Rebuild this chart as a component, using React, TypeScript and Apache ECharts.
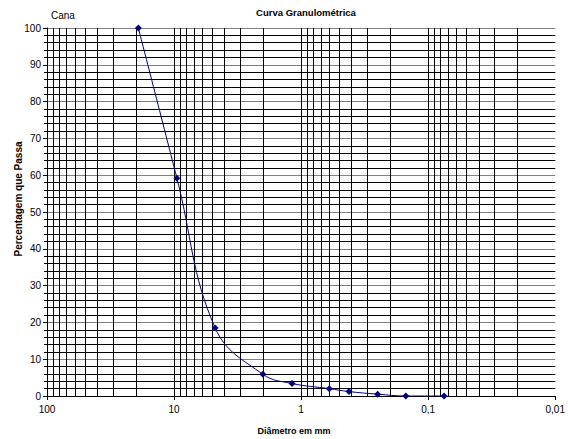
import React, { useEffect, useRef } from "react";
import * as echarts from "echarts";

// Sieve diameters (mm) and percentage passing
const diameters = [19.1, 9.5, 4.75, 2.0, 1.18, 0.6, 0.42, 0.25, 0.15, 0.075];
const passing = [100, 59.2, 18.5, 5.9, 3.4, 2.0, 1.2, 0.5, 0.0, 0.0];

const decades = [0.01, 0.1, 1, 10];
const multipliers = [1, 2, 3, 4, 5, 6, 7, 8, 9];

const FONT = "'Liberation Sans', Arial, sans-serif";

export default function App() {
  const ref = useRef<HTMLDivElement>(null);
  useEffect(() => {
    if (!ref.current) return;
    const chart = echarts.init(ref.current, null, { renderer: "svg" });
    const gridXs: number[] = [];
    decades.forEach((d) =>
      multipliers.forEach((m) => {
        const v = Number((d * m).toPrecision(3));
        if (v > 0.01) gridXs.push(v);
      })
    );
    const fmt = (v: number) => String(Number(v.toPrecision(3))).replace(".", ",");
    chart.setOption({
      animation: false,
      backgroundColor: "#fff",
      textStyle: { fontFamily: FONT },
      title: {
        text: "Curva Granulométrica",
        left: 301,
        textAlign: "center",
        top: 2,
        textStyle: { fontSize: 9.5, fontWeight: "bold", color: "#000", fontFamily: FONT },
      },
      grid: { left: 47, right: 10, top: 28, bottom: 43 },
      xAxis: {
        type: "log",
        logBase: 10,
        min: 0.01,
        max: 100,
        inverse: true,
        axisLine: { show: true, lineStyle: { color: "#000", width: 1 } },
        axisTick: { show: true, length: 4, lineStyle: { color: "#000" } },
        axisLabel: { fontSize: 10, color: "#000", margin: 8, formatter: fmt, fontFamily: FONT },
        splitLine: { show: false },
      },
      yAxis: {
        type: "value",
        min: 0,
        max: 100,
        interval: 10,
        axisLine: { show: true, lineStyle: { color: "#000", width: 1 } },
        axisTick: { show: true, length: 4, lineStyle: { color: "#000" } },
        minorTick: { show: true, splitNumber: 5, length: 3, lineStyle: { color: "#000" } },
        axisLabel: { fontSize: 10, color: "#000", margin: 6, fontFamily: FONT },
        splitLine: { show: true, lineStyle: { color: "#808080", width: 1 } },
        minorSplitLine: { show: true, lineStyle: { color: "#000", width: 1 } },
      },
      graphic: [
        {
          type: "text",
          left: 51,
          top: 10,
          style: { text: "Cana", fontSize: 10, fill: "#000", fontFamily: FONT },
        },
        {
          type: "text",
          x: 18,
          y: 199,
          rotation: Math.PI / 2,
          style: {
            text: "Percentagem que Passa",
            fontSize: 10,
            fontWeight: "bold",
            fill: "#000",
            align: "center",
            verticalAlign: "middle",
            fontFamily: FONT,
          },
        },
        {
          type: "text",
          x: 294,
          y: 431,
          style: {
            text: "Diâmetro em mm",
            fontSize: 9,
            fontWeight: "bold",
            fill: "#000",
            align: "center",
            verticalAlign: "middle",
            fontFamily: FONT,
          },
        },
      ],
      series: [
        {
          type: "line",
          data: [],
          z: 1,
          silent: true,
          markLine: {
            silent: true,
            symbol: ["none", "none"],
            label: { show: false },
            emphasis: { disabled: true },
            lineStyle: { type: "solid", color: "#000", width: 1 },
            data: gridXs.map((v) => ({
              xAxis: v,
              lineStyle: { type: "solid", color: v === 0.01 || v === 100 ? "#808080" : "#000", width: 1 },
            })),
          },
        },
        {
          type: "line",
          z: 5,
          data: diameters.map((d, i) => [d, passing[i]]),
          smooth: 0.4,
          symbol: "diamond",
          symbolSize: 7,
          itemStyle: { color: "#000080" },
          lineStyle: { color: "#000080", width: 1 },
        },
      ],
    });
    return () => chart.dispose();
  }, []);
  return (
    <div
      ref={ref}
      style={{ position: "absolute", left: 0, top: 0, width: 568, height: 439 }}
    />
  );
}
